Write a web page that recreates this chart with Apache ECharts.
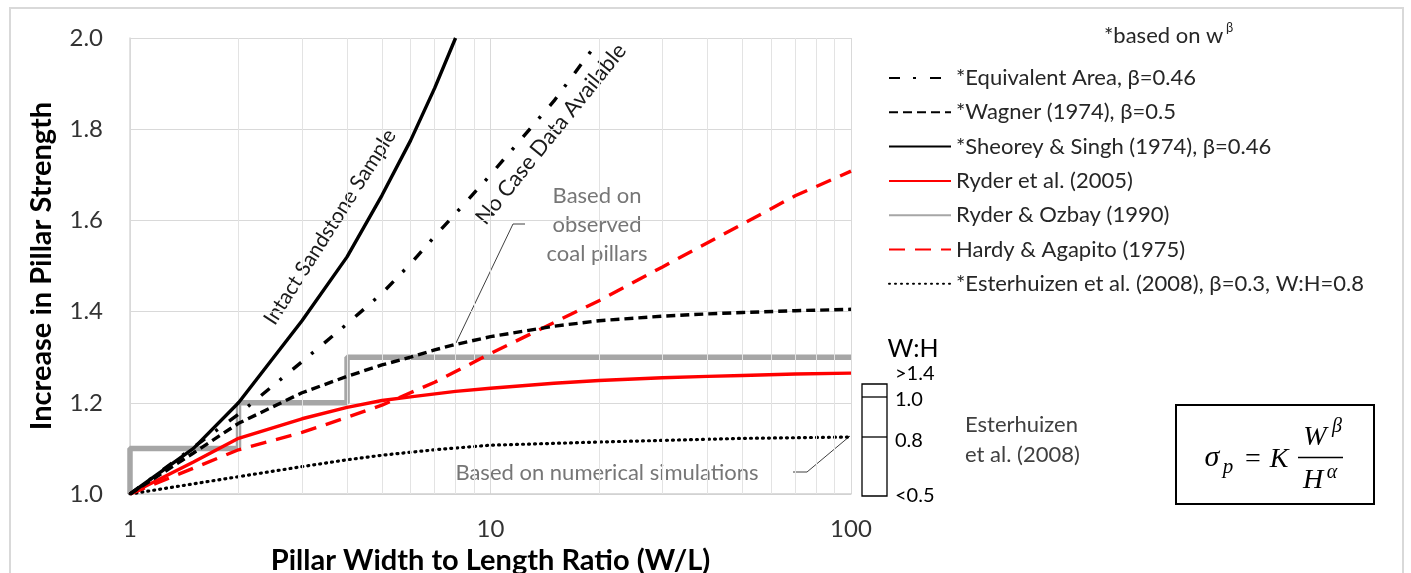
<!DOCTYPE html>
<html><head><meta charset="utf-8">
<script src="https://cdn.jsdelivr.net/npm/echarts@6/dist/echarts.min.js"></script>
<style>html,body{margin:0;padding:0;background:#fff}#c{width:1411px;height:573px}</style>
</head><body><div id="c"></div>
<script>
// ---- data ----
const xTickValues = [1, 10, 100];
const minorGridX = [2, 3, 4, 5, 6, 7, 8, 9, 20, 30, 40, 50, 60, 70, 80, 90];
const yMin = 1.0, yMax = 2.0, yStep = 0.2;

const seriesNames = [
  '*Equivalent Area, β=0.46',
  '*Wagner (1974), β=0.5',
  '*Sheorey & Singh (1974), β=0.46',
  'Ryder et al. (2005)',
  'Ryder & Ozbay (1990)',
  'Hardy & Agapito (1975)',
  '*Esterhuizen et al. (2008), β=0.3, W:H=0.8'
];

const eqAreaX = [1, 2, 3, 4, 5, 6, 7, 8, 10, 15, 20];
const eqAreaY = [1.0, 1.175, 1.29, 1.373, 1.44, 1.505, 1.565, 1.615, 1.70, 1.862, 1.995];

const wagnerX = [1, 1.5, 2, 3, 4, 5, 6, 7, 8, 10, 15, 20, 30, 40, 50, 70, 100];
const wagnerY = [1.0, 1.09, 1.155, 1.222, 1.258, 1.283, 1.30, 1.316, 1.328, 1.345, 1.368, 1.38, 1.39, 1.395, 1.398, 1.402, 1.405];

const sheoreyX = [1, 1.5, 2, 3, 4, 5, 6, 7, 8];
const sheoreyY = [1.0, 1.10, 1.20, 1.38, 1.52, 1.655, 1.775, 1.89, 2.0];

const ryder05X = [1, 1.5, 2, 3, 4, 5, 6, 8, 10, 15, 20, 30, 40, 50, 70, 100];
const ryder05Y = [1.0, 1.07, 1.122, 1.165, 1.19, 1.205, 1.213, 1.225, 1.232, 1.243, 1.249, 1.255, 1.258, 1.26, 1.263, 1.265];

const ryderOzX = [1, 1, 2, 2, 4, 4, 100];
const ryderOzY = [1.0, 1.1, 1.1, 1.2, 1.2, 1.3, 1.3];

const hardyX = [1, 2, 3, 4, 5, 7, 10, 15, 20, 30, 50, 70, 100];
const hardyY = [1.0, 1.097, 1.135, 1.168, 1.195, 1.245, 1.308, 1.376, 1.424, 1.498, 1.592, 1.654, 1.708];

const esterX = [1, 2, 3, 4, 5, 7, 10, 20, 50, 100];
const esterY = [1.0, 1.038, 1.06, 1.075, 1.085, 1.097, 1.107, 1.114, 1.122, 1.125];

const whLabels = ['>1.4', '1.0', '0.8', '<0.5'];

// ---- chart ----
const pairs = (xs, ys) => xs.map((x, i) => [x, ys[i]]);
const FONT = 'Lato';
const chart = echarts.init(document.getElementById('c'), null, {renderer: 'canvas'});

function lineSeries(name, xs, ys, color, width, type, z, cap) {
  return {
    name, type: 'line', data: pairs(xs, ys), symbol: 'none', showSymbol: false,
    smooth: false, z, silent: true,
    lineStyle: {color, width, type, cap: cap || 'butt'},
    itemStyle: {color}
  };
}

const series = [
  {
    name: '_minor', type: 'line', data: [[1, 1]], symbol: 'none', z: 1, silent: true,
    lineStyle: {width: 0, opacity: 0},
    markLine: {
      silent: true, symbol: ['none', 'none'], label: {show: false}, animation: false,
      lineStyle: {color: '#e3e3e3', width: 1, type: 'solid'},
      data: minorGridX.map(v => ({xAxis: v}))
    }
  },
  lineSeries(seriesNames[4], ryderOzX, ryderOzY, '#a6a6a6', 5.5, 'solid', 3),
  lineSeries(seriesNames[6], esterX, esterY, '#000000', 3.2, [1, 5], 4, 'round'),
  lineSeries(seriesNames[5], hardyX, hardyY, '#ff0000', 3.4, [16, 10], 5),
  lineSeries(seriesNames[3], ryder05X, ryder05Y, '#ff0000', 3.4, 'solid', 6),
  lineSeries(seriesNames[1], wagnerX, wagnerY, '#000000', 3.4, [9, 5], 7),
  lineSeries(seriesNames[0], eqAreaX, eqAreaY, '#000000', 3.4, [11, 13, 3, 14], 8),
  lineSeries(seriesNames[2], sheoreyX, sheoreyY, '#000000', 3.4, 'solid', 9)
];

const annoGray = '#767676';
const T = (x, y, text, font, fill, align, extra) => ({
  type: 'text', silent: true, x, y,
  style: Object.assign({text, font, fill, align: align || 'center', verticalAlign: 'middle'}, extra || {})
});
const graphic = [
  {type: 'rect', silent: true, z: -10, shape: {x: 10, y: 8, width: 1393, height: 580},
   style: {fill: 'none', stroke: '#d9d9d9', lineWidth: 2}},
  // legend header
  T(1104, 36, '*based on w', `22px ${FONT}`, '#262626', 'left'),
  T(1226, 28, 'β', `13px ${FONT}`, '#262626', 'left'),
  // rotated curve labels
  Object.assign(T(330, 227, 'Intact Sandstone Sample', `21px ${FONT}`, '#1a1a1a'), {rotation: 57.5 * Math.PI / 180}),
  Object.assign(T(551, 134, 'No Case Data Available', `22px ${FONT}`, '#1a1a1a'), {rotation: 51 * Math.PI / 180}),
  // observed coal pillars
  T(597, 225, 'Based on\nobserved\ncoal pillars', `22px ${FONT}`, annoGray, 'center', {lineHeight: 29}),
  {type: 'polyline', silent: true, shape: {points: [[525, 224], [513, 224], [456, 343]]},
   style: {stroke: '#404040', lineWidth: 1, fill: 'none'}},
  // numerical simulations
  T(607, 473, 'Based on numerical simulations', `22px ${FONT}`, annoGray),
  {type: 'polyline', silent: true, shape: {points: [[793, 472], [807, 472], [850, 436]]},
   style: {stroke: '#404040', lineWidth: 1, fill: 'none'}},
  // W:H scale
  T(913, 349, 'W:H', `25px ${FONT}`, '#000'),
  {type: 'rect', silent: true, shape: {x: 862, y: 384, width: 25, height: 112},
   style: {fill: '#fff', stroke: '#000', lineWidth: 1.3}},
  {type: 'line', silent: true, shape: {x1: 862, y1: 397, x2: 887, y2: 397}, style: {stroke: '#000', lineWidth: 1.3}},
  {type: 'line', silent: true, shape: {x1: 862, y1: 437, x2: 887, y2: 437}, style: {stroke: '#000', lineWidth: 1.3}},
  T(895, 374, whLabels[0], `20px ${FONT}`, '#000', 'left'),
  T(895, 400, whLabels[1], `20px ${FONT}`, '#000', 'left'),
  T(895, 441, whLabels[2], `20px ${FONT}`, '#000', 'left'),
  T(895, 496, whLabels[3], `20px ${FONT}`, '#000', 'left'),
  // Esterhuizen note
  T(965, 440, 'Esterhuizen\net al. (2008)', `22px ${FONT}`, '#404040', 'left', {lineHeight: 30}),
  // formula box
  {type: 'rect', silent: true, shape: {x: 1176, y: 405, width: 198, height: 99},
   style: {fill: '#fff', stroke: '#000', lineWidth: 2}},
  T(1212, 458, 'σ', `italic 30px "Liberation Serif"`, '#000'),
  T(1228, 467, 'p', `italic 21px "Liberation Serif"`, '#000'),
  T(1253, 460, '=', `28px "Liberation Serif"`, '#000'),
  T(1279, 460, 'K', `italic 28px "Liberation Serif"`, '#000'),
  {type: 'line', silent: true, shape: {x1: 1298, y1: 457.5, x2: 1343, y2: 457.5}, style: {stroke: '#000', lineWidth: 1.5}},
  T(1315, 438, 'W', `italic 28px "Liberation Serif"`, '#000'),
  T(1337, 427, 'β', `italic 20px "Liberation Serif"`, '#000'),
  T(1313, 481, 'H', `italic 28px "Liberation Serif"`, '#000'),
  T(1332, 473, 'α', `italic 20px "Liberation Serif"`, '#000')
];

chart.setOption({
  animation: false,
  backgroundColor: '#fff',
  grid: {left: 130, right: 1411 - 851, top: 38, bottom: 573 - 494, containLabel: false, outerBoundsMode: 'none'},
  xAxis: {
    type: 'log', logBase: 10, min: xTickValues[0], max: xTickValues[xTickValues.length - 1],
    name: 'Pillar Width to Length Ratio (W/L)', nameLocation: 'middle', nameGap: 49,
    nameTextStyle: {fontFamily: FONT, fontWeight: 'bold', fontSize: 29, color: '#000'},
    axisLine: {show: true, lineStyle: {color: '#d0d0d0', width: 1.5}},
    axisTick: {show: false},
    axisLabel: {fontFamily: FONT, fontSize: 24, color: '#333', margin: 23, formatter: v => String(v)},
    splitLine: {show: true, lineStyle: {color: '#d9d9d9', width: 1}},
    minorTick: {show: false}, minorSplitLine: {show: false}
  },
  yAxis: {
    type: 'value', min: yMin, max: yMax, interval: yStep,
    name: 'Increase in Pillar Strength', nameLocation: 'middle', nameGap: 74, nameRotate: 90,
    nameTextStyle: {fontFamily: FONT, fontWeight: 'bold', fontSize: 29, color: '#000'},
    axisLine: {show: true, lineStyle: {color: '#d9d9d9', width: 1.5}},
    axisTick: {show: false},
    axisLabel: {fontFamily: FONT, fontSize: 24, color: '#333', margin: 27, formatter: v => v.toFixed(1)},
    splitLine: {show: true, lineStyle: {color: '#d9d9d9', width: 1}}
  },
  legend: {
    orient: 'vertical', left: 883, top: 60, itemWidth: 62, itemHeight: 14, itemGap: 8.3,
    selectedMode: false, data: seriesNames,
    itemStyle: {opacity: 0},
    textStyle: {fontFamily: FONT, fontSize: 22, color: '#262626', lineHeight: 26}
  },
  series,
  graphic
});
</script></body></html>
